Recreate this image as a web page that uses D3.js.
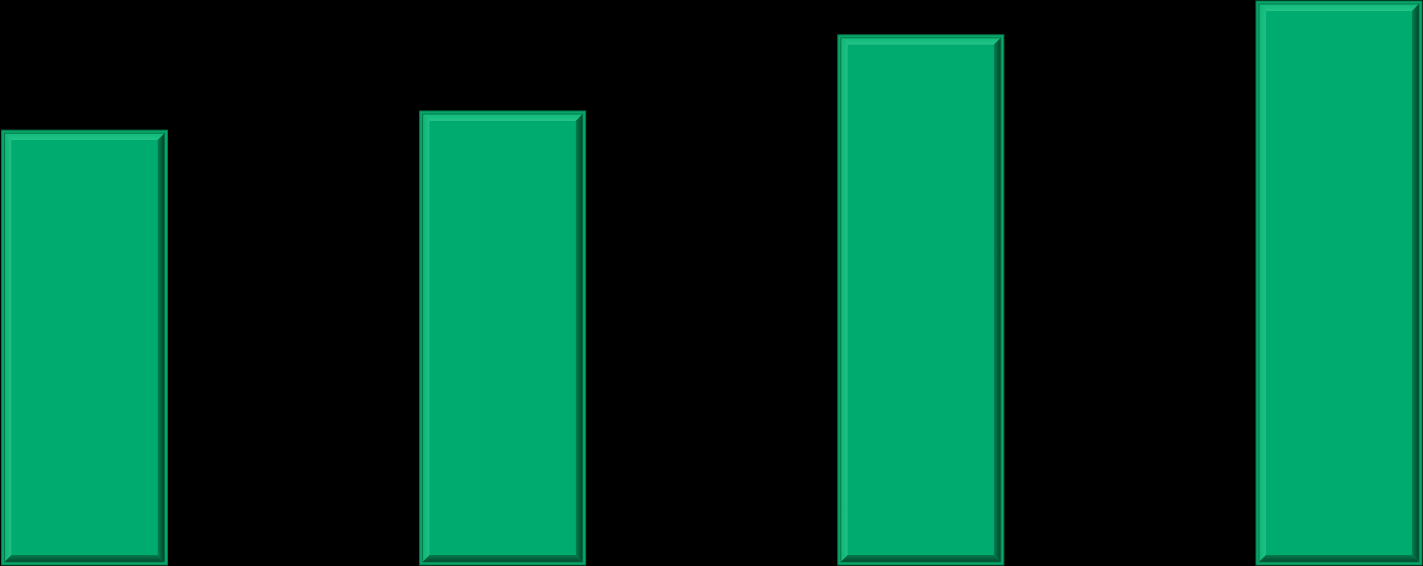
<!DOCTYPE html>
<html><head><meta charset="utf-8">
<script src="https://cdn.jsdelivr.net/npm/d3@7/dist/d3.min.js"></script>
<style>html,body{margin:0;padding:0;background:#000;overflow:hidden}</style>
</head><body>
<svg id="chart" width="1423" height="566"></svg>
<script>
const categories = ["A", "B", "C", "D"];
const values = [77.1, 80.5, 94.0, 100];

const W = 1423, H = 566;
const svg = d3.select("#chart");
svg.append("rect").attr("width", W).attr("height", H).attr("fill", "#000");

const x = d3.scaleBand().domain(categories).range([1.5, 1422]).paddingInner(0.603).paddingOuter(0);
const y = d3.scaleLinear().domain([0, 100]).range([565, 1]);

const defs = svg.append("defs");
const gR = defs.append("linearGradient").attr("id", "gr").attr("x1", "0").attr("x2", "1").attr("y1", "0").attr("y2", "0");
gR.append("stop").attr("offset", "0").attr("stop-color", "#03804f");
gR.append("stop").attr("offset", "1").attr("stop-color", "#02452b");
const gB = defs.append("linearGradient").attr("id", "gb").attr("x1", "0").attr("x2", "0").attr("y1", "0").attr("y2", "1");
gB.append("stop").attr("offset", "0").attr("stop-color", "#047a4c");
gB.append("stop").attr("offset", "1").attr("stop-color", "#034a2f");
const gT = defs.append("linearGradient").attr("id", "gt").attr("x1", "0").attr("x2", "0").attr("y1", "0").attr("y2", "1");
gT.append("stop").attr("offset", "0").attr("stop-color", "#0fb97a");
gT.append("stop").attr("offset", "1").attr("stop-color", "#25c489");
const gL = defs.append("linearGradient").attr("id", "gl").attr("x1", "0").attr("x2", "1").attr("y1", "0").attr("y2", "0");
gL.append("stop").attr("offset", "0").attr("stop-color", "#0db677");
gL.append("stop").attr("offset", "1").attr("stop-color", "#22c086");

const bars = svg.selectAll("g.bar").data(categories.map((c, i) => ({c, v: values[i]})))
  .enter().append("g").attr("class", "bar");

const o = 3, b = 7;
bars.each(function(d) {
  const g = d3.select(this);
  const x0 = x(d.c), x1 = x0 + x.bandwidth();
  const y0 = y(d.v), y1 = y(0);
  g.append("rect").attr("x", x0).attr("y", y0).attr("width", x1 - x0).attr("height", y1 - y0)
    .attr("fill", "#07a669").attr("stroke", "#08784c").attr("stroke-width", 1);
  const ax = x0 + o, bx = x1 - o, ay = y0 + o, by = y1 - o;
  const ix = ax + b, jx = bx - b, iy = ay + b, jy = by - b;
  const poly = (pts, fill) => g.append("polygon").attr("points", pts.map(p => p.join(",")).join(" ")).attr("fill", fill);
  poly([[ax, ay], [bx, ay], [jx, iy], [ix, iy]], "url(#gt)");
  poly([[ax, ay], [ix, iy], [ix, jy], [ax, by]], "url(#gl)");
  poly([[bx, ay], [bx, by], [jx, jy], [jx, iy]], "url(#gr)");
  poly([[ax, by], [ix, jy], [jx, jy], [bx, by]], "url(#gb)");
  g.append("rect").attr("x", ax).attr("y", ay).attr("width", bx - ax).attr("height", by - ay)
    .attr("fill", "none").attr("stroke", "#066c43").attr("stroke-width", 0.8);
  g.append("rect").attr("x", ix).attr("y", iy).attr("width", jx - ix).attr("height", jy - iy)
    .attr("fill", "#00ab6f");
});
</script>
</body></html>
